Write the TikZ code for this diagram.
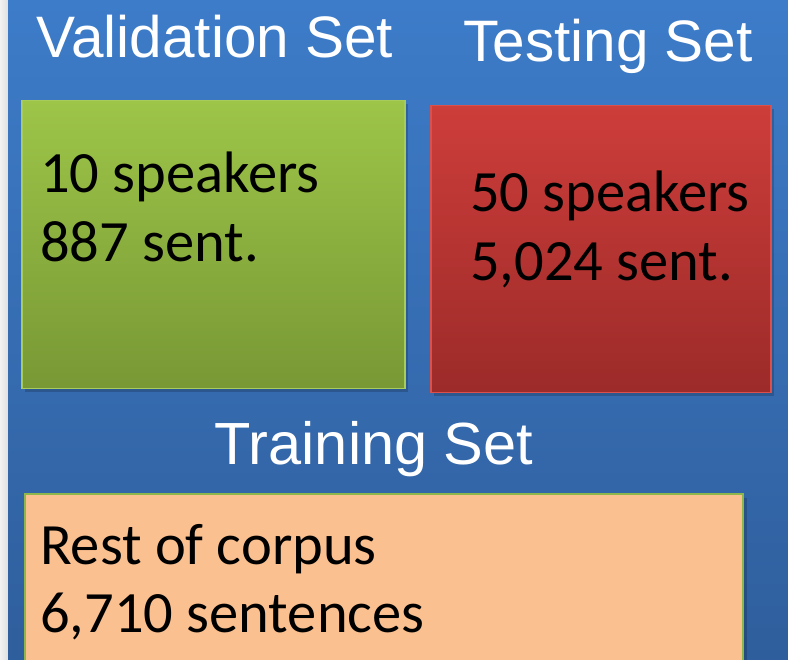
\documentclass[tikz,border=0pt]{standalone}
\usepackage{fontspec}
\setmainfont{Carlito}
\newfontfamily\arialfont{Liberation Sans}
\definecolor{bgtop}{HTML}{3D7CC9}
\definecolor{bgbot}{HTML}{2F5E9C}
\definecolor{grtop}{HTML}{9DC548}
\definecolor{grbot}{HTML}{789835}
\definecolor{grline}{HTML}{A8CC5C}
\definecolor{rdtop}{HTML}{CD3D3A}
\definecolor{rdbot}{HTML}{9C2B29}
\definecolor{rdline}{HTML}{D9504C}
\definecolor{orfill}{HTML}{FAC090}
\definecolor{orline}{HTML}{8DB64C}
\tikzset{
  x=1pt, y=-1pt,
  title/.style={text=white, font=\arialfont\fontsize{58.5}{58.5}\selectfont, inner sep=0pt, anchor=base},
  boxtext/.style={text=black, font=\fontsize{58.5}{69}\selectfont, inner sep=0pt, anchor=base west, align=left},
  setbox/.style={rectangle, inner sep=0pt, anchor=north west},
  shadowbox/.style={fill=black, opacity=0.18}
}
\begin{document}
\begin{tikzpicture}
\useasboundingbox (0,0) rectangle (788,660);
% background
\shade[left color=white!90!gray, right color=white!75!gray] (0,0) rectangle (8,660);
\shade[top color=bgtop, bottom color=bgbot] (8,0) rectangle (788,660);
% shadows
\fill[shadowbox] (25,104) rectangle (408,392);
\fill[shadowbox] (434,109) rectangle (774,396);
\fill[shadowbox] (29,498) rectangle (747,660);
% boxes
\node[setbox, top color=grtop, bottom color=grbot, draw=grline, line width=1.5pt,
      minimum width=383pt, minimum height=288pt] (valbox) at (21,100) {};
\node[setbox, top color=rdtop, bottom color=rdbot, draw=rdline, line width=1.5pt,
      minimum width=340pt, minimum height=287pt] (testbox) at (430,105) {};
\node[setbox, fill=orfill, minimum width=718pt, minimum height=170pt] (trainbox) at (25,494) {};
\draw[orline, line width=2pt] (trainbox.south west) -- (trainbox.north west) -- (trainbox.north east) -- (trainbox.south east);
% titles
\node[title] (valtitle) at (215,58) {Validation Set};
\node[title] (testtitle) at (608,62) {Testing Set};
\node[title, font=\arialfont\fontsize{59.5}{59.5}\selectfont] (traintitle) at (374,465) {Training Set};
% box texts
\node[boxtext] (valtext1) at (40,193) {10 speakers};
\node[boxtext] (valtext2) at (40,262) {887 sent.};
\node[boxtext] (testtext1) at (470,212) {50 speakers};
\node[boxtext] (testtext2) at (470,281) {5,024 sent.};
\node[boxtext] (traintext1) at (40,565) {Rest of corpus};
\node[boxtext] (traintext2) at (40,632) {6,710 sentences};
\end{tikzpicture}
\end{document}
